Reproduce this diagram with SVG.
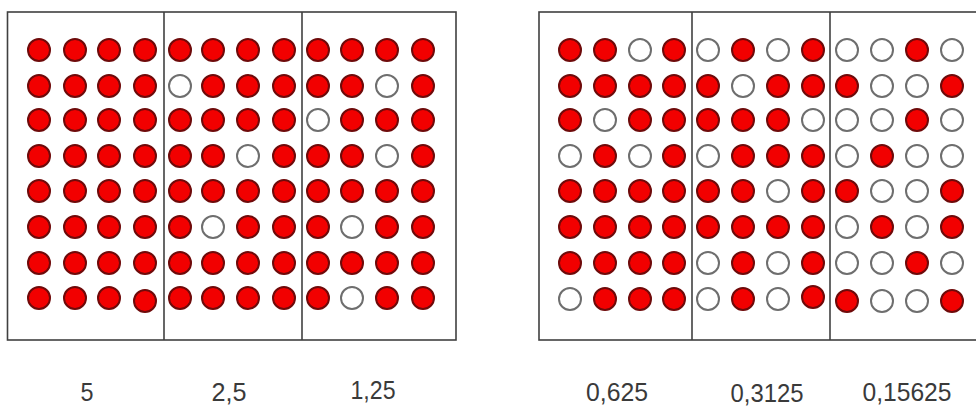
<svg xmlns="http://www.w3.org/2000/svg" width="976" height="407" viewBox="0 0 976 407">
<style>
.frame{fill:#fff;stroke:#404040;stroke-width:1.6}
.div{stroke:#404040;stroke-width:1.6}
.r{fill:#f20000;stroke:#6e0a0a;stroke-width:2}
.w{fill:#fff;stroke:#6e6e6e;stroke-width:2}
.lbl{font-family:"Liberation Sans",Arial,sans-serif;font-size:26px;fill:#3a3a3a;text-anchor:middle}
</style>
<rect width="976" height="407" fill="#fff"/>
<g id="panel-left">
<rect class="frame" x="7.5" y="12" width="448.5" height="328"/>
<line class="div" x1="164" y1="12" x2="164" y2="340"/>
<line class="div" x1="302" y1="12" x2="302" y2="340"/>
</g>
<g id="panel-right">
<rect class="frame" x="539" y="12" width="440" height="328"/>
<line class="div" x1="692" y1="12" x2="692" y2="340"/>
<line class="div" x1="830" y1="12" x2="830" y2="340"/>
</g>
<g id="connectors"></g>
<g id="s1">
<circle class="r" cx="39" cy="50" r="11"/><circle class="r" cx="75" cy="50" r="11"/><circle class="r" cx="109" cy="50" r="11"/><circle class="r" cx="145" cy="50" r="11"/>
<circle class="r" cx="39" cy="86" r="11"/><circle class="r" cx="75" cy="86" r="11"/><circle class="r" cx="109" cy="86" r="11"/><circle class="r" cx="145" cy="86" r="11"/>
<circle class="r" cx="39" cy="120" r="11"/><circle class="r" cx="75" cy="120" r="11"/><circle class="r" cx="109" cy="120" r="11"/><circle class="r" cx="145" cy="120" r="11"/>
<circle class="r" cx="39" cy="156" r="11"/><circle class="r" cx="75" cy="156" r="11"/><circle class="r" cx="109" cy="156" r="11"/><circle class="r" cx="145" cy="156" r="11"/>
<circle class="r" cx="39" cy="191" r="11"/><circle class="r" cx="75" cy="191" r="11"/><circle class="r" cx="109" cy="191" r="11"/><circle class="r" cx="145" cy="191" r="11"/>
<circle class="r" cx="39" cy="227" r="11"/><circle class="r" cx="75" cy="227" r="11"/><circle class="r" cx="109" cy="227" r="11"/><circle class="r" cx="145" cy="227" r="11"/>
<circle class="r" cx="39" cy="263" r="11"/><circle class="r" cx="75" cy="263" r="11"/><circle class="r" cx="109" cy="263" r="11"/><circle class="r" cx="145" cy="263" r="11"/>
<circle class="r" cx="39" cy="298" r="11"/><circle class="r" cx="75" cy="298" r="11"/><circle class="r" cx="109" cy="298" r="11"/><circle class="r" cx="145" cy="301" r="11"/>
</g>
<g id="s2">
<circle class="r" cx="180" cy="50" r="11"/><circle class="r" cx="213" cy="50" r="11"/><circle class="r" cx="248" cy="50" r="11"/><circle class="r" cx="284" cy="50" r="11"/>
<circle class="w" cx="180" cy="86" r="11"/><circle class="r" cx="213" cy="86" r="11"/><circle class="r" cx="248" cy="86" r="11"/><circle class="r" cx="284" cy="86" r="11"/>
<circle class="r" cx="180" cy="120" r="11"/><circle class="r" cx="213" cy="120" r="11"/><circle class="r" cx="248" cy="120" r="11"/><circle class="r" cx="284" cy="120" r="11"/>
<circle class="r" cx="180" cy="156" r="11"/><circle class="r" cx="213" cy="156" r="11"/><circle class="w" cx="248" cy="156" r="11"/><circle class="r" cx="284" cy="156" r="11"/>
<circle class="r" cx="180" cy="191" r="11"/><circle class="r" cx="213" cy="191" r="11"/><circle class="r" cx="248" cy="191" r="11"/><circle class="r" cx="284" cy="191" r="11"/>
<circle class="r" cx="180" cy="227" r="11"/><circle class="w" cx="213" cy="227" r="11"/><circle class="r" cx="248" cy="227" r="11"/><circle class="r" cx="284" cy="227" r="11"/>
<circle class="r" cx="180" cy="263" r="11"/><circle class="r" cx="213" cy="263" r="11"/><circle class="r" cx="248" cy="263" r="11"/><circle class="r" cx="284" cy="263" r="11"/>
<circle class="r" cx="180" cy="298" r="11"/><circle class="r" cx="213" cy="298" r="11"/><circle class="r" cx="248" cy="298" r="11"/><circle class="r" cx="284" cy="298" r="11"/>
</g>
<g id="s3">
<circle class="r" cx="318" cy="50" r="11"/><circle class="r" cx="352" cy="50" r="11"/><circle class="r" cx="387" cy="50" r="11"/><circle class="r" cx="423" cy="50" r="11"/>
<circle class="r" cx="318" cy="86" r="11"/><circle class="r" cx="352" cy="86" r="11"/><circle class="w" cx="387" cy="86" r="11"/><circle class="r" cx="423" cy="86" r="11"/>
<circle class="w" cx="318" cy="120" r="11"/><circle class="r" cx="352" cy="120" r="11"/><circle class="r" cx="387" cy="120" r="11"/><circle class="r" cx="423" cy="120" r="11"/>
<circle class="r" cx="318" cy="156" r="11"/><circle class="r" cx="352" cy="156" r="11"/><circle class="w" cx="387" cy="156" r="11"/><circle class="r" cx="423" cy="156" r="11"/>
<circle class="r" cx="318" cy="191" r="11"/><circle class="r" cx="352" cy="191" r="11"/><circle class="r" cx="387" cy="191" r="11"/><circle class="r" cx="423" cy="191" r="11"/>
<circle class="r" cx="318" cy="227" r="11"/><circle class="w" cx="352" cy="227" r="11"/><circle class="r" cx="387" cy="227" r="11"/><circle class="r" cx="423" cy="227" r="11"/>
<circle class="r" cx="318" cy="263" r="11"/><circle class="r" cx="352" cy="263" r="11"/><circle class="r" cx="387" cy="263" r="11"/><circle class="r" cx="423" cy="263" r="11"/>
<circle class="r" cx="318" cy="298" r="11"/><circle class="w" cx="352" cy="298" r="11"/><circle class="r" cx="387" cy="298" r="11"/><circle class="r" cx="423" cy="298" r="11"/>
</g>
<g id="s4">
<circle class="r" cx="570" cy="50" r="11"/><circle class="r" cx="605" cy="50" r="11"/><circle class="w" cx="640" cy="50" r="11"/><circle class="r" cx="674" cy="50" r="11"/>
<circle class="r" cx="570" cy="86" r="11"/><circle class="r" cx="605" cy="86" r="11"/><circle class="r" cx="640" cy="86" r="11"/><circle class="r" cx="674" cy="86" r="11"/>
<circle class="r" cx="570" cy="120" r="11"/><circle class="w" cx="605" cy="120" r="11"/><circle class="r" cx="640" cy="120" r="11"/><circle class="r" cx="674" cy="120" r="11"/>
<circle class="w" cx="570" cy="156" r="11"/><circle class="r" cx="605" cy="156" r="11"/><circle class="w" cx="640" cy="156" r="11"/><circle class="r" cx="674" cy="156" r="11"/>
<circle class="r" cx="570" cy="191" r="11"/><circle class="r" cx="605" cy="191" r="11"/><circle class="r" cx="640" cy="191" r="11"/><circle class="r" cx="674" cy="191" r="11"/>
<circle class="r" cx="570" cy="227" r="11"/><circle class="r" cx="605" cy="227" r="11"/><circle class="r" cx="640" cy="227" r="11"/><circle class="r" cx="674" cy="227" r="11"/>
<circle class="r" cx="570" cy="263" r="11"/><circle class="r" cx="605" cy="263" r="11"/><circle class="r" cx="640" cy="263" r="11"/><circle class="r" cx="674" cy="263" r="11"/>
<circle class="w" cx="570" cy="299" r="11"/><circle class="r" cx="605" cy="299" r="11"/><circle class="r" cx="640" cy="299" r="11"/><circle class="r" cx="674" cy="299" r="11"/>
</g>
<g id="s5">
<circle class="w" cx="708" cy="50" r="11"/><circle class="r" cx="743" cy="50" r="11"/><circle class="w" cx="778" cy="50" r="11"/><circle class="r" cx="813" cy="50" r="11"/>
<circle class="r" cx="708" cy="86" r="11"/><circle class="w" cx="743" cy="86" r="11"/><circle class="r" cx="778" cy="86" r="11"/><circle class="r" cx="813" cy="86" r="11"/>
<circle class="r" cx="708" cy="120" r="11"/><circle class="r" cx="743" cy="120" r="11"/><circle class="r" cx="778" cy="120" r="11"/><circle class="w" cx="813" cy="120" r="11"/>
<circle class="w" cx="708" cy="156" r="11"/><circle class="r" cx="743" cy="156" r="11"/><circle class="r" cx="778" cy="156" r="11"/><circle class="r" cx="813" cy="156" r="11"/>
<circle class="r" cx="708" cy="191" r="11"/><circle class="r" cx="743" cy="191" r="11"/><circle class="w" cx="778" cy="191" r="11"/><circle class="r" cx="813" cy="191" r="11"/>
<circle class="r" cx="708" cy="227" r="11"/><circle class="r" cx="743" cy="227" r="11"/><circle class="r" cx="778" cy="227" r="11"/><circle class="r" cx="813" cy="227" r="11"/>
<circle class="w" cx="708" cy="263" r="11"/><circle class="r" cx="743" cy="263" r="11"/><circle class="w" cx="778" cy="263" r="11"/><circle class="r" cx="813" cy="263" r="11"/>
<circle class="w" cx="708" cy="299" r="11"/><circle class="r" cx="743" cy="299" r="11"/><circle class="w" cx="778" cy="299" r="11"/><circle class="r" cx="813" cy="297" r="11"/>
</g>
<g id="s6">
<circle class="w" cx="847" cy="50" r="11"/><circle class="w" cx="882" cy="50" r="11"/><circle class="r" cx="917" cy="50" r="11"/><circle class="w" cx="952" cy="50" r="11"/>
<circle class="r" cx="847" cy="86" r="11"/><circle class="w" cx="882" cy="86" r="11"/><circle class="w" cx="917" cy="86" r="11"/><circle class="r" cx="952" cy="86" r="11"/>
<circle class="w" cx="847" cy="120" r="11"/><circle class="w" cx="882" cy="120" r="11"/><circle class="r" cx="917" cy="120" r="11"/><circle class="w" cx="952" cy="120" r="11"/>
<circle class="w" cx="847" cy="156" r="11"/><circle class="r" cx="882" cy="156" r="11"/><circle class="w" cx="917" cy="156" r="11"/><circle class="w" cx="952" cy="156" r="11"/>
<circle class="r" cx="847" cy="191" r="11"/><circle class="w" cx="882" cy="191" r="11"/><circle class="w" cx="917" cy="191" r="11"/><circle class="r" cx="952" cy="191" r="11"/>
<circle class="w" cx="847" cy="227" r="11"/><circle class="r" cx="882" cy="227" r="11"/><circle class="w" cx="917" cy="227" r="11"/><circle class="r" cx="952" cy="227" r="11"/>
<circle class="w" cx="847" cy="263" r="11"/><circle class="w" cx="882" cy="263" r="11"/><circle class="r" cx="917" cy="263" r="11"/><circle class="w" cx="952" cy="263" r="11"/>
<circle class="r" cx="847" cy="301" r="11"/><circle class="w" cx="882" cy="301" r="11"/><circle class="w" cx="917" cy="301" r="11"/><circle class="r" cx="952" cy="301" r="11"/>
</g>
<g id="labels">
<text class="lbl" x="87" y="401" textLength="13" lengthAdjust="spacingAndGlyphs">5</text>
<text class="lbl" x="229" y="401" textLength="35" lengthAdjust="spacingAndGlyphs">2,5</text>
<text class="lbl" x="373" y="399" textLength="45" lengthAdjust="spacingAndGlyphs">1,25</text>
<text class="lbl" x="617" y="401" textLength="62" lengthAdjust="spacingAndGlyphs">0,625</text>
<text class="lbl" x="767" y="402" textLength="73" lengthAdjust="spacingAndGlyphs">0,3125</text>
<text class="lbl" x="907" y="401" textLength="89" lengthAdjust="spacingAndGlyphs">0,15625</text>
</g>
</svg>
